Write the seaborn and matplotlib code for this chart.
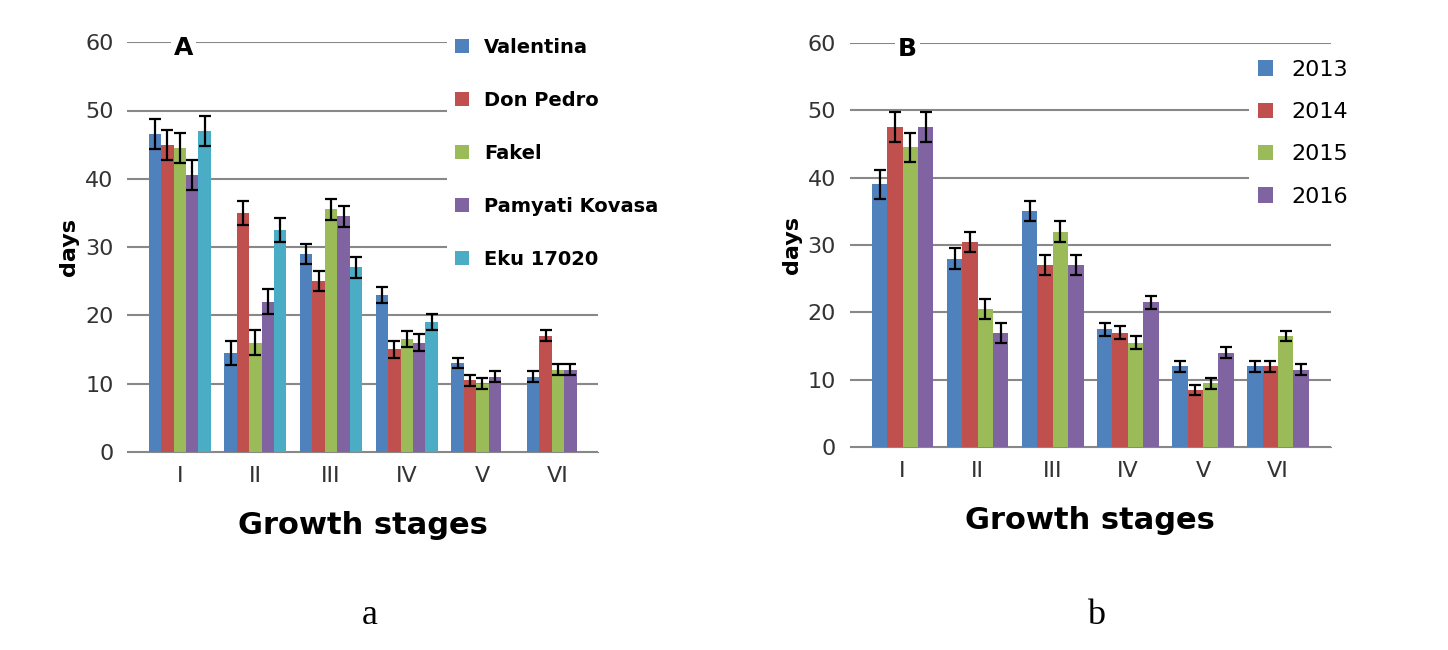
import matplotlib
matplotlib.use("Agg")
import matplotlib.pyplot as plt
from matplotlib.container import BarContainer
import seaborn as sns
import pandas as pd
import numpy as np

stages = ["I", "II", "III", "IV", "V", "VI"]
varieties = ["Valentina", "Don Pedro", "Fakel", "Pamyati Kovasa", "Eku 17020"]
valentina = [46.5, 14.5, 29, 23, 13, 11]
don_pedro = [45, 35, 25, 15, 10.5, 17]
fakel = [44.5, 16, 35.5, 16.5, 10, 12]
pamyati = [40.5, 22, 34.5, 16, 11, 12]
eku = [47, 32.5, 27, 19, np.nan, np.nan]
err_a = [2.2, 1.8, 1.5, 1.2, 0.8, 0.8]

years = ["2013", "2014", "2015", "2016"]
y2013 = [39, 28, 35, 17.5, 12, 12]
y2014 = [47.5, 30.5, 27, 17, 8.5, 12]
y2015 = [44.5, 20.5, 32, 15.5, 9.5, 16.5]
y2016 = [47.5, 17, 27, 21.5, 14, 11.5]
err_b = [2.2, 1.5, 1.5, 1.0, 0.8, 0.8]

colors5 = ["#4F81BD", "#C0504D", "#9BBB59", "#8064A2", "#4BACC6"]

def make_df(names, series):
    rows = []
    for n, s in zip(names, series):
        for st, v in zip(stages, s):
            rows.append({"stage": st, "group": n, "value": v})
    return pd.DataFrame(rows)

fig = plt.figure(figsize=(14.48, 6.5), dpi=100)
axA = fig.add_axes([0.088, 0.305, 0.325, 0.63])
axB = fig.add_axes([0.587, 0.312, 0.332, 0.622])

def draw(ax, names, series, err, letter, legend_kw):
    df = make_df(names, series)
    sns.barplot(data=df, x="stage", y="value", hue="group", palette=colors5[:len(names)],
                errorbar=None, ax=ax, width=0.82, saturation=1, zorder=3)
    bars = [c for c in ax.containers if isinstance(c, BarContainer)]
    for cont in bars:
        for i, p in enumerate(cont.patches):
            h = p.get_height()
            if np.isnan(h) or h == 0:
                continue
            ax.errorbar(p.get_x() + p.get_width() / 2, h, yerr=err[i], color="black",
                        capsize=4, elinewidth=1.6, capthick=1.6, zorder=4)
    ax.set_ylim(0, 60)
    ax.set_yticks(range(0, 61, 10))
    ax.yaxis.grid(True, color="#888888", linewidth=1.5, zorder=0)
    ax.set_axisbelow(True)
    for s in ["top", "right", "left"]:
        ax.spines[s].set_visible(False)
    ax.spines["bottom"].set_color("#888888")
    ax.tick_params(axis="both", length=0, labelsize=16, colors="#333333", pad=10)
    ax.set_ylabel("days", fontsize=16, fontweight="bold")
    ax.set_xlabel("Growth stages", fontsize=22, fontweight="bold", labelpad=18)
    ax.text(0.12, 0.985, letter, transform=ax.transAxes, fontsize=18, fontweight="bold",
            ha="center", va="center", zorder=5,
            bbox=dict(facecolor="white", edgecolor="none", pad=2))
    leg = ax.legend(**legend_kw)
    leg.get_frame().set_facecolor("white")
    leg.get_frame().set_alpha(1)
    leg.set_zorder(6)

draw(axA, varieties, [valentina, don_pedro, fakel, pamyati, eku], err_a, "A",
     dict(loc="upper left", bbox_to_anchor=(0.68, 1.03), frameon=True, edgecolor="none",
          prop={"weight": "bold", "size": 14}, labelspacing=1.75,
          handlelength=0.7, handleheight=0.7, borderaxespad=0))
draw(axB, years, [y2013, y2014, y2015, y2016], err_b, "B",
     dict(loc="upper left", bbox_to_anchor=(0.83, 0.98), frameon=True, edgecolor="none",
          fontsize=16, labelspacing=1.0, handlelength=0.7, handleheight=0.7, borderaxespad=0))

fig.text(0.255, 0.04, "a", fontsize=26, family="Liberation Serif", ha="center")
fig.text(0.757, 0.04, "b", fontsize=26, family="Liberation Serif", ha="center")
fig.savefig("out.png", dpi=100)
